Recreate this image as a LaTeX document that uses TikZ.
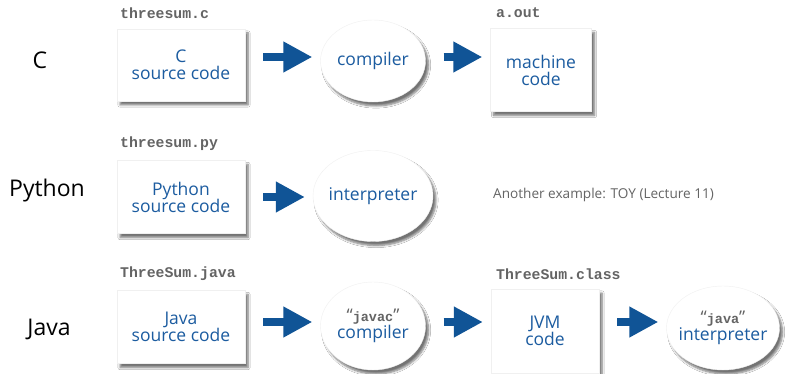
\documentclass[tikz,border=0pt]{standalone}
\usepackage{fontspec}
\setmainfont{Open Sans}
\newfontfamily\monof{Liberation Mono}
\usetikzlibrary{arrows.meta,shadows.blur,shapes.geometric}
\definecolor{arrowblue}{RGB}{16,84,150}
\definecolor{textblue}{RGB}{28,92,160}
\definecolor{filegray}{RGB}{100,100,100}
\tikzset{
  shad/.style={blur shadow={shadow xshift=3pt,shadow yshift=-4pt,shadow blur steps=6,shadow opacity=55}},
  codebox/.style={rectangle,fill=white,draw=black!6,shad,text=textblue,font=\fontsize{17.5}{20}\selectfont,align=center,inner sep=0pt},
  proc/.style={ellipse,fill=white,draw=black!6,shad,text=textblue,font=\fontsize{17.5}{20}\selectfont,align=center,inner xsep=-12pt,inner ysep=0pt},
  flow/.style={draw=arrowblue,line width=8pt,-{Triangle[length=29pt,width=29pt]},shorten <=18pt,shorten >=8pt},
  fname/.style={anchor=west,text=filegray,font=\monof\bfseries\fontsize{14.8}{16}\selectfont,inner sep=0pt},
  lang/.style={font=\fontsize{23}{26}\selectfont,text=black,inner sep=0pt}
}
\newcommand{\qq}[1]{\textcolor{filegray}{“}{\monof\bfseries\fontsize{13.5}{15}\selectfont\textcolor{filegray}{#1}}\textcolor{filegray}{”}}
\begin{document}
\begin{tikzpicture}[x=1pt,y=-1pt]
\useasboundingbox[fill=white] (0,0) rectangle (797,374);
% Row C
\node[lang] (lc) at (40,60) {C};
\node[fname] (fc) at (120,13) {threesum.c};
\node[codebox,minimum width=128pt,minimum height=72pt] (csrc) at (181,65) {C\\[-3pt]source code};
\node[proc,minimum width=105pt,minimum height=82pt] (ccomp) at (373,61) {compiler};
\node[codebox,minimum width=101pt,minimum height=83pt] (cmach) at (541,70) {machine\\[-3pt]code};
\node[fname] (fa) at (496,13) {a.out};
\draw[flow] (csrc.east |- 0,57) -- (ccomp.west |- 0,57);
\draw[flow] (ccomp.east |- 0,57) -- (cmach.west |- 0,57);
% Row Python
\node[lang] (lp) at (47,191) {Python};
\node[fname] (fp) at (120,144) {threesum.py};
\node[codebox,minimum width=128pt,minimum height=73pt] (psrc) at (181,197) {Python\\[-3pt]source code};
\node[proc,minimum width=120pt,minimum height=91pt] (pint) at (373,196) {interpreter};
\draw[flow] (psrc.east |- 0,197) -- (pint.west |- 0,197);
\node[anchor=west,text=filegray,font=\fontsize{13.6}{16}\selectfont,inner sep=0pt] (toy) at (493,195) {Another example: TOY (Lecture 11)};
% Row Java
\node[lang] (lj) at (49,329) {Java};
\node[fname] (fj) at (120,274) {ThreeSum.java};
\node[codebox,minimum width=128pt,minimum height=73pt] (jsrc) at (181,327) {Java\\[-3pt]source code};
\node[proc,minimum width=105pt,minimum height=88pt] (jcomp) at (373,326) {\qq{javac}\\[-3pt]compiler};
\node[codebox,minimum width=108pt,minimum height=84pt] (jvm) at (545,331) {JVM\\[-3pt]code};
\node[fname] (fcl) at (496,274) {ThreeSum.class};
\node[proc,minimum width=113pt,minimum height=84pt] (jint) at (723,328) {\qq{java}\\[-3pt]interpreter};
\draw[flow] (jsrc.east |- 0,322) -- (jcomp.west |- 0,322);
\draw[flow] (jcomp.east |- 0,322) -- (jvm.west |- 0,322);
\draw[flow] (jvm.east |- 0,322) -- (jint.west |- 0,322);
\end{tikzpicture}
\end{document}
